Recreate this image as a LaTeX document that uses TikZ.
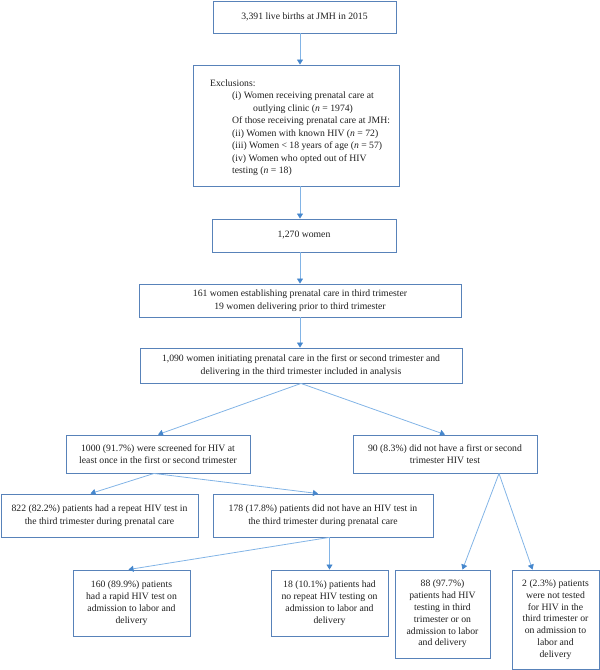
\documentclass[tikz,border=0pt]{standalone}
\usepackage{fontspec}
\setmainfont{Liberation Serif}
\usetikzlibrary{arrows.meta,calc}
\definecolor{boxcol}{RGB}{88,130,185}
\definecolor{linecol}{RGB}{130,180,230}
\definecolor{tipcol}{RGB}{70,135,205}
\definecolor{txtcol}{RGB}{30,30,30}
\tikzset{
  fbox/.style={draw=boxcol, line width=0.9pt, rectangle, inner sep=0pt, align=center,
    text=txtcol, font=\fontsize{9.7}{12.5}\selectfont},
  sbox/.style={fbox, font=\fontsize{9.7}{11.8}\selectfont},
  conn/.style={draw=linecol, line width=0.8pt, -{Triangle[length=5pt,width=6pt,color=tipcol]}},
}
\begin{document}
\begin{tikzpicture}[x=1pt,y=-1pt]
\useasboundingbox (0,0) rectangle (600,670);
\node[fbox, minimum width=183pt, minimum height=32pt] (b1) at (304.5,17) {3,391 live births at JMH in 2015};
\node[fbox, minimum width=206pt, minimum height=121pt] (b2) at (296,125.5) {};
\node[anchor=north west, align=left, inner sep=0pt, text=txtcol, font=\fontsize{9.7}{12.5}\selectfont] (b2t) at (210,79.5)
 {Exclusions:\\
  \hspace*{22pt}(i) Women receiving prenatal care at\\
  \hspace*{43pt}outlying clinic (\textit{n} = 1974)\\
  \hspace*{22pt}Of those receiving prenatal care at JMH:\\
  \hspace*{22pt}(ii) Women with known HIV (\textit{n} = 72)\\
  \hspace*{22pt}(iii) Women < 18 years of age (\textit{n} = 57)\\
  \hspace*{22pt}(iv) Women who opted out of HIV\\
  \hspace*{22pt}testing (\textit{n} = 18)};
\node[fbox, minimum width=184pt, minimum height=33pt] (b3) at (304,235.5) {1,270 women};
\node[fbox, minimum width=322pt, minimum height=33pt] (b4) at (300,300.5) {161 women establishing prenatal care in third trimester\\19 women delivering prior to third trimester};
\node[fbox, minimum width=322pt, minimum height=35pt] (b5) at (301,365.5) {1,090 women initiating prenatal care in the first or second trimester and\\delivering in the third trimester included in analysis};
\node[fbox, minimum width=184pt, minimum height=38pt] (b6) at (158,454) {1000 (91.7\%) were screened for HIV at\\least once in the first or second trimester};
\node[fbox, minimum width=184pt, minimum height=38pt] (b7) at (445,454) {90 (8.3\%) did not have a first or second\\trimester HIV test};
\node[fbox, minimum width=197pt, minimum height=43pt] (b8) at (99.5,515.5) {822 (82.2\%) patients had a repeat HIV test in\\the third trimester during prenatal care};
\node[fbox, minimum width=220pt, minimum height=43pt] (b9) at (323,515.5) {178 (17.8\%) patients did not have an HIV test in\\the third trimester during prenatal care};
\node[sbox, minimum width=117pt, minimum height=66pt] (b10) at (131.5,603) {160 (89.9\%) patients\\had a rapid HIV test on\\admission to labor and\\delivery};
\node[sbox, minimum width=117pt, minimum height=66pt] (b11) at (329.5,603) {18 (10.1\%) patients had\\no repeat HIV testing on\\admission to labor and\\delivery};
\node[sbox, minimum width=95pt, minimum height=88pt] (b12) at (442.5,614) {88 (97.7\%)\\patients had HIV\\testing in third\\trimester or on\\admission to labor\\and delivery};
\node[sbox, minimum width=87pt, minimum height=99pt] (b13) at (555.5,619.5) {2 (2.3\%) patients\\were not tested\\for HIV in the\\third trimester or\\on admission to\\labor and\\delivery};
% connectors
\draw[conn] (b1.south -| 300,0) -- (b2.north -| 300,0);
\draw[conn] (b2.south -| 300,0) -- (b3.north -| 300,0);
\draw[conn] (b3.south -| 300,0) -- (b4.north -| 300,0);
\draw[conn] (b4.south -| 300,0) -- (b5.north -| 300,0);
\draw[conn] (b5.south) -- (b6.north);
\draw[conn] (b5.south) -- (b7.north);
\coordinate (b6o) at ($(b6.south)+(-4,0)$);
\draw[conn] (b6o) -- ($(b8.north)+(-9,0)$);
\draw[conn] (b6o) -- ($(b9.north)+(-5,0)$);
\coordinate (b9o) at ($(b9.south)+(6,0)$);
\draw[conn] (b9o) -- ($(b10.north)+(-3,0)$);
\draw[conn] (b9.south -| b11.north) -- (b11.north);
\coordinate (b7o) at ($(b7.south)+(54,0)$);
\draw[conn] (b7o) -- ($(b12.north)+(20,0)$);
\draw[conn] (b7o) -- ($(b13.north)+(-23,0)$);
\end{tikzpicture}
\end{document}
